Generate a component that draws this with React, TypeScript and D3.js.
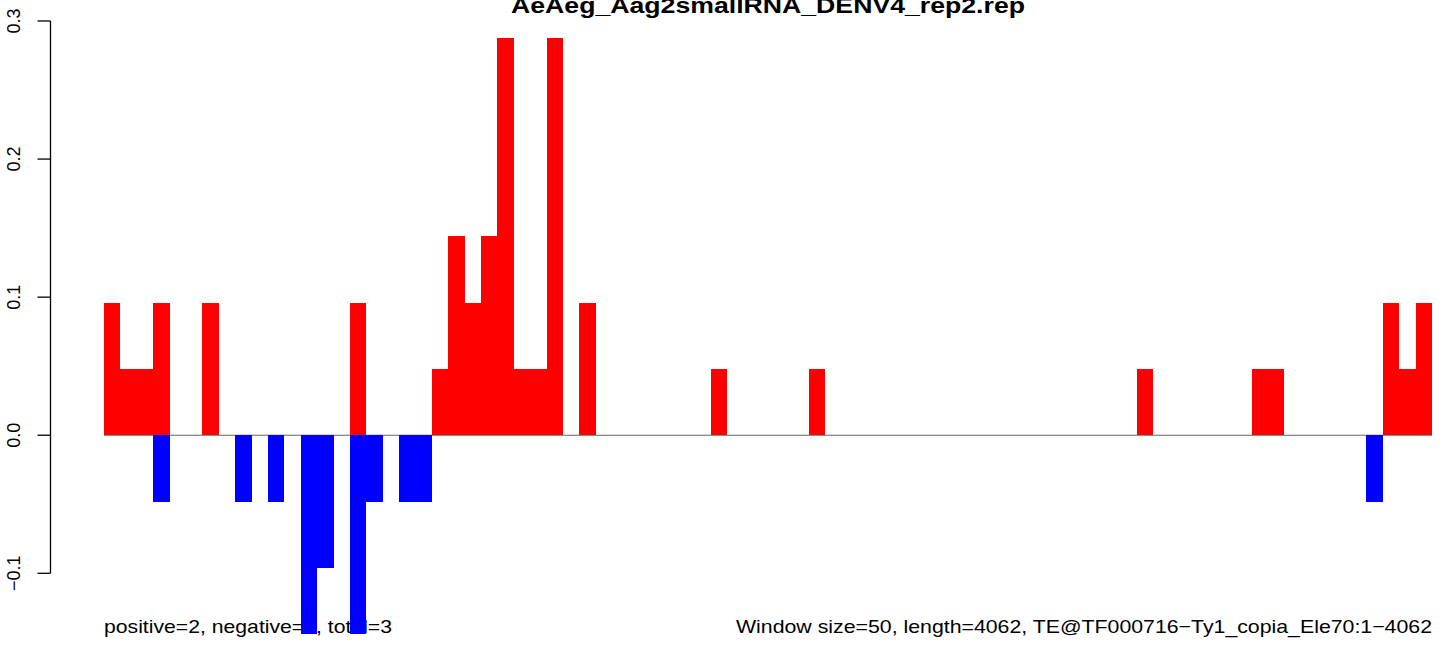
import React from "react";
import * as d3 from "d3";

const title = "AeAeg_Aag2smallRNA_DENV4_rep2.rep";
const leftNote = "positive=2, negative=1, total=3";
const rightNote = "Window size=50, length=4062, TE@TF000716\u2212Ty1_copia_Ele70:1\u22124062";

const binCount = 81;
// [bin index, value]
const positiveBins: [number, number][] = [
  [0, 0.096], [1, 0.048], [2, 0.048], [3, 0.096], [6, 0.096], [15, 0.096],
  [20, 0.048], [21, 0.144], [22, 0.096], [23, 0.144], [24, 0.288], [25, 0.048],
  [26, 0.048], [27, 0.288], [29, 0.096], [37, 0.048], [43, 0.048], [63, 0.048],
  [70, 0.048], [71, 0.048], [78, 0.096], [79, 0.048], [80, 0.096],
];
const negativeBins: [number, number][] = [
  [3, -0.048], [8, -0.048], [10, -0.048], [12, -0.144], [13, -0.096],
  [15, -0.144], [16, -0.048], [18, -0.048], [19, -0.048], [77, -0.048],
];
const yTicks = [-0.1, 0, 0.1, 0.2, 0.3];
const yTickLabels = ["\u22120.1", "0.0", "0.1", "0.2", "0.3"];

const W = 1444;
const H = 646;
const FONT = "'Liberation Sans', Arial, Helvetica, sans-serif";

export default function App() {
  const x = d3.scaleBand<number>().domain(d3.range(binCount)).range([104, 1432]).paddingInner(0).paddingOuter(0);
  const y = d3.scaleLinear().domain([-0.1, 0.3]).range([573.3, 21]);
  const axisX = 50.5;

  return (
    <svg width={W} height={H} style={{ position: "absolute", left: 0, top: 0, background: "#fff" }}>
      <rect x={0} y={0} width={W} height={H} fill="#fff" />
      <text x={768} y={13} textAnchor="middle" fontFamily={FONT} fontWeight="bold" fontSize={22}
        textLength={514} lengthAdjust="spacingAndGlyphs">{title}</text>
      <text x={104} y={633} fontFamily={FONT} fontSize={18.5} textLength={288} lengthAdjust="spacingAndGlyphs">{leftNote}</text>
      <text x={736} y={633} fontFamily={FONT} fontSize={18.5} textLength={696} lengthAdjust="spacingAndGlyphs">{rightNote}</text>

      <line x1={x(0)!} x2={x(binCount - 1)! + x.bandwidth()} y1={y(0)} y2={y(0)} stroke="#666" strokeWidth={1.2} />

      <g shapeRendering="crispEdges">
        {positiveBins.map(([i, v]) => (
          <rect key={"p" + i} x={x(i)!} width={x.bandwidth()} y={y(v)} height={y(0) - y(v)} fill="#ff0000" />
        ))}
        {negativeBins.map(([i, v]) => (
          <rect key={"n" + i} x={x(i)!} width={x.bandwidth()} y={y(0)} height={y(v) - y(0)} fill="#0000ff" />
        ))}
      </g>

      <line x1={axisX} x2={axisX} y1={y(0.3)} y2={y(-0.1)} stroke="#000" strokeWidth={1.3} />
      {yTicks.map((t, k) => (
        <g key={t}>
          <line x1={37.5} x2={axisX} y1={y(t)} y2={y(t)} stroke="#000" strokeWidth={1.3} />
          <text transform={`translate(19.5,${y(t)}) rotate(-90)`} textAnchor="middle" fontFamily={FONT} fontSize={18}>
            {yTickLabels[k]}
          </text>
        </g>
      ))}
    </svg>
  );
}
